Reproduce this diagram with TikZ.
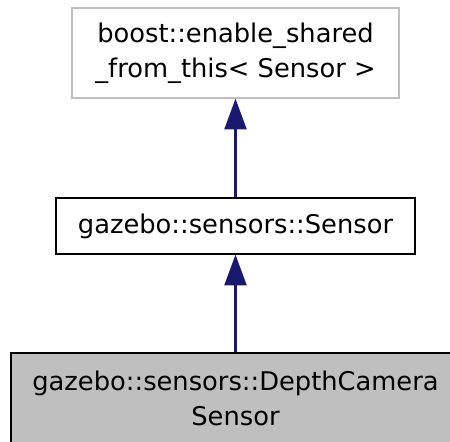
\documentclass[tikz,border=0pt]{standalone}
\usepackage{fontspec}
\setmainfont{DejaVu Sans}
\usepackage{tikz}
\usetikzlibrary{arrows.meta}
\definecolor{edgenavy}{RGB}{25,25,112}
\definecolor{classgray}{RGB}{191,191,191}

\begin{document}
\begin{tikzpicture}[x=0.75pt,y=0.75pt,yscale=-1,xscale=1,
  classbox/.style={draw, line width=1pt, inner sep=0pt, align=center, font=\fontsize{19.3}{26.25}\selectfont},
  inherit/.style={color=edgenavy, line width=1.6pt, -{Triangle[length=23pt,width=16.5pt]}}]
%set diagram left start at 0, and has width of 450 and height of 442
\useasboundingbox (0,0) rectangle (450,442);
\clip (0,0) rectangle (450,442);

%Shape: Class [id:enable]
\draw (235.5,53) node [classbox, draw=classgray, minimum width=245.25pt, minimum height=67.5pt] (enable) {boost::enable\_shared\\\_from\_this< Sensor >};
%Shape: Class [id:sensor]
\draw (235.5,226) node [classbox, minimum width=269.25pt, minimum height=42pt] (sensor) {gazebo::sensors::Sensor};
%Shape: Class [id:depth]
\draw (235.5,398) node [classbox, fill=classgray, minimum width=336.75pt, minimum height=67.5pt] (depth) {gazebo::sensors::DepthCamera\\Sensor};

%Shape: Inherit Line
\draw [inherit] (sensor.north) -- (enable.south);
%Shape: Inherit Line
\draw [inherit] (depth.north) -- (sensor.south);

\end{tikzpicture}
\end{document}
